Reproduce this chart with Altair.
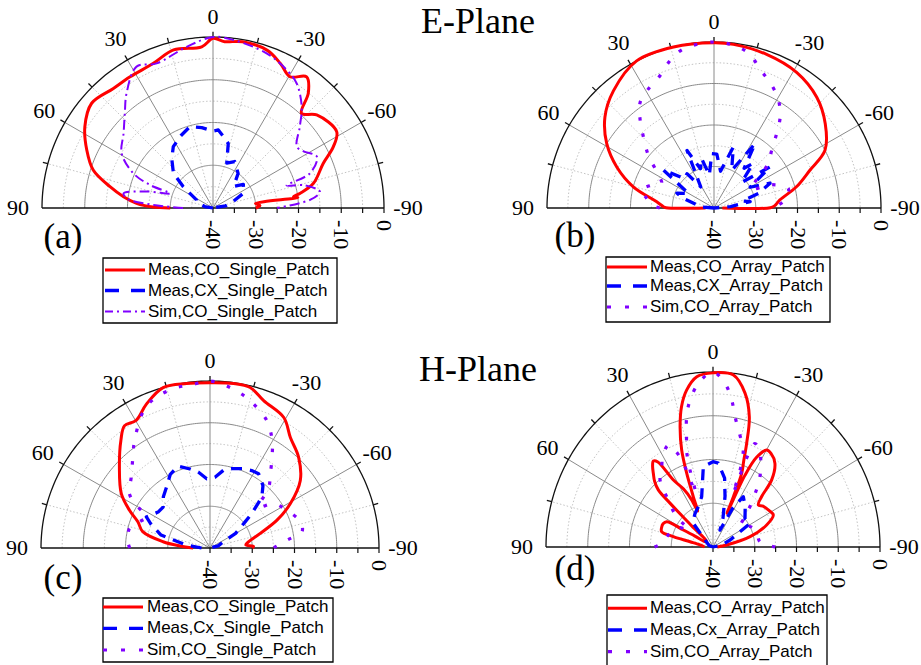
import altair as alt
import numpy as np
import pandas as pd

W, H = 921, 665

# ---------------- radiation patterns: angle (deg), level (dB) ----------------
# (a) E-plane, single patch
A_CO_ANG = [90, 89, 88, 86.5, 82.8, 78.3, 72.4, 65.3, 57.6, 49.2, 39.8, 32.3, 22.4, 14, 4,
            0, -4, -10, -19, -25, -30.4, -35.5, -39.7, -43.1, -48.1, -58.3, -63, -68, -76.2,
            -80.4, -82, -83, -84, -87, -90]
A_CO_DB = [-30, -26, -24, -22.1, -18.9, -15.4, -10.6, -7.5, -4.5, -2.5, -3.6, -3.7, -3.4, -1.9, -2.2,
           -0.3, -1.0, -0.5, -1.0, -2.7, -4.4, -2.3, -5.1, -9.7, -7.4, -6.0, -8.4, -12.2, -15.8,
           -19.3, -21, -20, -30, -29, -30]
A_CX_ANG = [90, 80, 70, 64, 54.3, 48.8, 40, 32.9, 24, 15.8, 8, 0, -3.9, -8, -13.3, -17, -25, -36,
            -43.6, -52, -64, -72, -80, -90]
A_CX_DB = [-40, -38, -36, -35.7, -31.4, -27.7, -25, -22.9, -21.5, -20.2, -21, -22, -21.7, -23, -24.5,
           -29, -28, -30, -33, -31, -32, -35, -37, -40]
A_SIM_ANG = [90, 87, 84, 80.7, 76, 71.2, 69.9, 66.5, 59.1, 50, 42.9, 37, 28.4, 21.3, 9.3, 0, -6.9,
             -19.1, -28.1, -33.9, -41.2, -46.9, -53.8, -58, -63.7, -70.3, -73, -76, -81.3, -85, -90]
A_SIM_DB = [-33, -26, -20, -18.8, -24, -29.4, -24.3, -19.7, -15.1, -12.7, -9.7, -6.4, -2.4, -3.7, -1.8,
            0, -0.4, -1.7, -3.4, -4.9, -8.5, -12.2, -15.7, -15, -12.9, -15.9, -22, -18, -14.7, -17, -25]

# (b) E-plane, array
B_CO_ANG = [90, 89.7, 88.5, 83.7, 75.2, 67, 58.9, 50, 40.5, 27.6, 14, 0, -6.7, -18.8, -31.2, -42.7,
            -52.7, -62.4, -68.4, -75.5, -83, -88, -89.7, -90]
B_CO_DB = [-38, -28.5, -27.9, -26.2, -20, -14.7, -10, -5.9, -2.9, 0, 0, -0.2, -0.3, -0.9, -1.8, -3.7,
           -6.5, -10, -15.3, -19.6, -24.1, -25.5, -26.5, -38]
B_CX_ANG = [90, 85, 77, 72, 68, 60, 53, 45, 38, 32, 25, 19, 14, 8, 2.4, -3, -10, -17.5, -25, -32.4,
            -37, -41, -47, -53.6, -60, -66, -71.7, -76, -80, -85, -90]
B_CX_DB = [-40, -37, -35, -32, -30.4, -33, -24.8, -30, -29.5, -34, -24.7, -30, -27.7, -32, -26.9, -27,
           -31, -24.6, -30, -21.6, -28, -25.7, -31, -23.3, -30, -25.3, -28.8, -33, -31.2, -36, -40]
B_SIM_ANG = [90, 87, 81.8, 76, 70, 64.8, 58, 51.1, 44.7, 40, 34.8, 28.8, 22.1, 16.6, 10.9, 0, -7.3,
             -13.1, -18.2, -23.9, -30.4, -35.9, -40, -44.8, -50.6, -57.3, -63, -68, -75.2, -83.6, -90]
B_SIM_DB = [-27, -25, -23.7, -22.1, -24, -26.1, -24, -19.8, -16, -12.5, -9, -7.3, -5.6, -3, -1, 0, -0.6,
            -2, -4.8, -6.9, -9.6, -13, -16.7, -20.4, -23.2, -28.3, -30, -25, -21.6, -22.9, -26]

# (c) H-plane, single patch
C_CO_ANG = [90, 86, 82.3, 76.2, 69.8, 64.6, 58.2, 47.9, 39.3, 34.6, 29.8, 23.6, 16.1, 8, 0, -8, -13.9,
            -19.8, -29.2, -35.7, -44, -52.9, -60.8, -67.2, -73.6, -80.6, -85, -88, -90]
C_CO_DB = [-36, -32.9, -28.8, -23.6, -21.8, -18.9, -15.3, -11.1, -6.7, -4.4, -4.8, -2.4, 0, -0.2, -0.4,
           -0.2, -0.4, -2.5, -4.2, -7.4, -9.8, -13.2, -18.2, -22.8, -27.6, -30.7, -31.5, -29.7, -30]
C_CX_ANG = [90, 82.7, 75, 68, 63.7, 55, 48.5, 42, 35, 28, 21, 14, 8.7, 2.7, -4, -10, -15.2, -22, -28,
            -32.9, -40, -45.2, -50, -53, -60, -64.6, -75, -90]
C_CX_DB = [-38, -34.4, -28, -25, -23.2, -25, -25.2, -23.5, -22.1, -20, -19, -20.5, -21.6, -23.4, -23,
           -21, -20.3, -19.5, -19, -18.8, -20.5, -22.7, -27, -29.6, -33, -36.5, -38, -40]
C_SIM_ANG = [90, 85.6, 80, 76.2, 70, 63.7, 60, 55.7, 47.7, 40, 34.8, 25, 18.7, 11.7, 5.8, 0, -5.8,
             -11.6, -17.5, -23.9, -29.4, -33.6, -38.8, -44, -49.5, -54.8, -62, -73.7, -79.9, -84, -90]
C_SIM_DB = [-21, -20.5, -20.3, -20.4, -22, -23.2, -20.3, -16.9, -14.8, -11.6, -8.7, -3.3, -1.6, -0.8,
            -0.6, 0, -1, -2.4, -4.3, -6.7, -10.1, -13.4, -17.2, -20, -24.8, -21.6, -20, -17.7, -17.9,
            -21.6, -25]

# (d) H-plane, array
D_CO_ANG = [90, 82, 77.7, 76, 74, 70, 66, 62.4, 61.4, 60, 56, 50, 46.5, 45.8, 45.1, 43, 40.3, 38, 36,
            34.2, 31.8, 28, 25.4, 24, 22.3, 20.5, 18.7, 16, 13.2, 10, 5.7, 0, -7.1, -12.3, -16.3,
            -18.8, -20.5, -22.2, -23, -23.5, -25, -27, -30.1, -33, -37.8, -42.5, -45.3, -48.5, -52,
            -58, -63.1, -68.6, -75, -82, -90]
D_CO_DB = [-38, -37, -34.4, -30.2, -27.2, -26.9, -26.9, -27.5, -31.9, -35, -38, -38, -33, -25.7, -21.5,
           -19.5, -17.9, -16.5, -15.7, -16.5, -22, -25, -28, -31, -27.6, -22, -16.6, -11.4, -7, -3.6,
           -0.9, -0.2, -0.4, -4, -9, -15, -19, -21.8, -27.5, -31.6, -22, -17, -14.4, -14.5, -15.8,
           -19.2, -23.6, -25.5, -24.8, -24.2, -23.8, -26.2, -30.8, -36.7, -39]
D_CX_ANG = [90, 70, 50, 41, 35, 29.3, 20, 13.3, 7.2, 0, -3.8, -10, -14, -20, -23.4, -28, -32.3, -40,
            -50, -58.7, -68.6, -78, -90]
D_CX_DB = [-40, -39, -37.5, -32.8, -32, -31.2, -30, -28.2, -21.5, -20.5, -20.8, -24, -28.1, -33, -35.8,
           -30, -26.4, -28, -30, -29.6, -35.6, -38, -40]
D_SIM_ANG = [90, 86, 73, 62, 56, 51.5, 43.9, 39.6, 35, 30, 24.6, 21, 18.5, 17.5, 16, 14.1, 12, 9.3, 5,
             0, -4.4, -7.6, -10, -14, -18.1, -20.5, -21.5, -23, -28, -35, -40, -46.5, -55, -62, -69,
             -77, -84, -90]
D_SIM_DB = [-26, -27.7, -29.2, -30.5, -33, -28.9, -24, -20.1, -18.5, -16, -14.4, -18, -27, -22, -17,
            -14, -9.6, -6, -2.2, 0, -2.5, -6.1, -9.7, -13.5, -16.7, -22, -27, -14.3, -16, -20.4,
            -24.5, -28.8, -32, -30, -29.2, -29, -28.7, -25]

# ---------------- axis / legend text ----------------
ANGLE_TICKS = [90, 60, 30, 0, -30, -60, -90]
RADIAL_TICKS = [-40, -30, -20, -10, 0]
PANEL_TAGS = {"a": "(a)", "b": "(b)", "c": "(c)", "d": "(d)"}
LEGEND_TEXT = {
    "a": ["Meas,CO_Single_Patch", "Meas,CX_Single_Patch", "Sim,CO_Single_Patch"],
    "b": ["Meas,CO_Array_Patch", "Meas,CX_Array_Patch", "Sim,CO_Array_Patch"],
    "c": ["Meas,CO_Single_Patch", "Meas,Cx_Single_Patch", "Sim,CO_Single_Patch"],
    "d": ["Meas,CO_Array_Patch", "Meas,Cx_Array_Patch", "Sim,CO_Array_Patch"],
}

# ---------------- layout (pixels) ----------------
# centre x, centre y, horizontal radius, vertical radius of each half-polar frame
GEOM = {"a": (213, 208, 171, 171), "b": (714, 208, 167, 166),
        "c": (210, 548, 169, 167), "d": (713, 547, 167, 175)}
TAG_POS = {"a": (63, 237), "b": (575, 236), "c": (63, 578), "d": (575, 569)}
LEG_BOX = {"a": (103, 258, 337, 323), "b": (606, 257, 830, 322),
           "c": (103, 598, 333, 662), "d": (607, 595, 827, 672)}
LEG_ROWS = {"a": (270, 290.5, 311.5), "b": (267, 286, 307),
            "c": (607, 628.3, 650), "d": (608.3, 630, 651.7)}
LEG_X = {"a": (105, 145, 148), "b": (607, 647, 650), "c": (103, 143, 147), "d": (608, 647, 650)}

RED, BLUE, VIOLET = "#ff0000", "#0000ff", "#8000ff"
SERIF, SANS = "Liberation Serif", "Liberation Sans"

XS = alt.Scale(domain=[0, W], nice=False, zero=False)
YS = alt.Scale(domain=[0, H], nice=False, zero=False, reverse=True)


def add_geom(df):
    df["cx"] = df["panel"].map(lambda p: GEOM[p][0])
    df["cy"] = df["panel"].map(lambda p: GEOM[p][1])
    df["rx"] = df["panel"].map(lambda p: GEOM[p][2])
    df["ry"] = df["panel"].map(lambda p: GEOM[p][3])
    return df


def polar(chart):
    return chart.transform_calculate(
        px="datum.cx - datum.rx * (datum.db + 40) / 40 * sin(datum.ang * PI / 180)",
        py="datum.cy - datum.ry * (datum.db + 40) / 40 * cos(datum.ang * PI / 180)",
    )


def line_layer(df, **mark):
    return polar(alt.Chart(df)).mark_line(strokeJoin="round", **mark).encode(
        x=alt.X("px:Q", scale=XS, axis=None),
        y=alt.Y("py:Q", scale=YS, axis=None),
        detail="key:N",
        order="idx:Q",
    )


# ---------------- polar grid ----------------
grid_rows = []
arc_angles = np.arange(90, -90.5, -1.0)
for p in GEOM:
    for lvl in [-35, -30, -25, -20, -15, -10, -5, 0]:
        kind = "black" if lvl == 0 else ("solid" if lvl % 10 == 0 else "dot")
        for i, a in enumerate(arc_angles):
            grid_rows.append(dict(panel=p, kind=kind, key=f"{p}arc{lvl}", idx=i, ang=a, db=lvl))
    for a in [75, 60, 45, 30, 15, 0, -15, -30, -45, -60, -75]:
        kind = "solid" if a % 30 == 0 else "dot"
        for i, d in enumerate([-40, 0]):
            grid_rows.append(dict(panel=p, kind=kind, key=f"{p}sp{a}", idx=i, ang=a, db=d))
        for i, d in enumerate([0, 1.2]):
            grid_rows.append(dict(panel=p, kind="black", key=f"{p}tk{a}", idx=i, ang=a, db=d))
    for i, (a, d) in enumerate([(90, 0), (90, -40), (-90, 0)]):
        grid_rows.append(dict(panel=p, kind="black", key=f"{p}base", idx=i, ang=a, db=d))
grid = add_geom(pd.DataFrame(grid_rows))

grid_dot = line_layer(grid[grid.kind == "dot"], color="#bcbcbc", strokeWidth=0.9, strokeDash=[1.5, 2])
grid_solid = line_layer(grid[grid.kind == "solid"], color="#8a8a8a", strokeWidth=1)
grid_black = line_layer(grid[grid.kind == "black"], color="#111111", strokeWidth=1.3)

# ticks below the baseline of the radial scale
rt_rows = []
for p in GEOM:
    for d in range(-40, 1, 5):
        rt_rows.append(dict(panel=p, db=d))
rticks = add_geom(pd.DataFrame(rt_rows))
radial_ticks = alt.Chart(rticks).transform_calculate(
    px="datum.cx + datum.rx * (datum.db + 40) / 40", py="datum.cy", py2="datum.cy + 5"
).mark_rule(color="#111111", strokeWidth=1.2).encode(
    x=alt.X("px:Q", scale=XS, axis=None), y=alt.Y("py:Q", scale=YS, axis=None), y2="py2:Q")

# radial labels (rotated) and angle labels
rl = add_geom(pd.DataFrame([dict(panel=p, db=d, t=str(d)) for p in GEOM for d in RADIAL_TICKS]))
radial_labels = alt.Chart(rl).transform_calculate(
    px="datum.cx + datum.rx * (datum.db + 40) / 40", py="datum.cy + 12"
).mark_text(font=SERIF, fontSize=22, angle=90, align="left", baseline="middle", color="black").encode(
    x=alt.X("px:Q", scale=XS, axis=None), y=alt.Y("py:Q", scale=YS, axis=None), text="t:N")

al = add_geom(pd.DataFrame([dict(panel=p, ang=a, t=str(a), off=(20 if a == 0 else 24))
                            for p in GEOM for a in ANGLE_TICKS]))
angle_labels = alt.Chart(al).transform_calculate(
    px="datum.cx - (datum.rx + datum.off) * sin(datum.ang * PI / 180)",
    py="datum.cy - (datum.ry + datum.off) * cos(datum.ang * PI / 180)",
).mark_text(font=SERIF, fontSize=22, align="center", baseline="middle", color="black").encode(
    x=alt.X("px:Q", scale=XS, axis=None), y=alt.Y("py:Q", scale=YS, axis=None), text="t:N")

# ---------------- pattern curves ----------------
CURVES = [
    ("a", "co", A_CO_ANG, A_CO_DB), ("a", "cx", A_CX_ANG, A_CX_DB), ("a", "sim", A_SIM_ANG, A_SIM_DB),
    ("b", "co", B_CO_ANG, B_CO_DB), ("b", "cx", B_CX_ANG, B_CX_DB), ("b", "sim", B_SIM_ANG, B_SIM_DB),
    ("c", "co", C_CO_ANG, C_CO_DB), ("c", "cx", C_CX_ANG, C_CX_DB), ("c", "sim", C_SIM_ANG, C_SIM_DB),
    ("d", "co", D_CO_ANG, D_CO_DB), ("d", "cx", D_CX_ANG, D_CX_DB), ("d", "sim", D_SIM_ANG, D_SIM_DB),
]
crow = []
for p, s, angs, dbs in CURVES:
    for i, (a, d) in enumerate(zip(angs, dbs)):
        crow.append(dict(panel=p, series=s, key=p + s, idx=i, ang=a, db=d))
curves = add_geom(pd.DataFrame(crow))

co_layer = line_layer(curves[curves.series == "co"], color=RED, strokeWidth=3,
                      interpolate="catmull-rom")
cx_layer = line_layer(curves[curves.series == "cx"], color=BLUE, strokeWidth=3.3, strokeDash=[11, 8])
sim_dashdot = line_layer(curves[(curves.series == "sim") & (curves.panel == "a")],
                         color=VIOLET, strokeWidth=2, strokeDash=[10, 4, 2, 4],
                         interpolate="catmull-rom")
sim_dotted = line_layer(curves[(curves.series == "sim") & (curves.panel != "a")],
                        color=VIOLET, strokeWidth=3.2, strokeDash=[3.5, 13],
                        interpolate="catmull-rom")

# ---------------- titles and panel tags ----------------
titles = alt.Chart(pd.DataFrame({"x": [478, 478], "y": [22, 370], "t": ["E-Plane", "H-Plane"]})).mark_text(
    font=SERIF, fontSize=36, align="center", baseline="middle", color="black").encode(
    x=alt.X("x:Q", scale=XS, axis=None), y=alt.Y("y:Q", scale=YS, axis=None), text="t:N")
tags = alt.Chart(pd.DataFrame([dict(x=TAG_POS[p][0], y=TAG_POS[p][1], t=PANEL_TAGS[p]) for p in GEOM])).mark_text(
    font=SERIF, fontSize=35, align="center", baseline="middle", color="black").encode(
    x=alt.X("x:Q", scale=XS, axis=None), y=alt.Y("y:Q", scale=YS, axis=None), text="t:N")

# ---------------- legends ----------------
boxes = pd.DataFrame([dict(x0=b[0], y0=b[1], x1=b[2], y1=b[3]) for b in LEG_BOX.values()])
leg_box = alt.Chart(boxes).mark_rect(fill="white", stroke="black", strokeWidth=1.3).encode(
    x=alt.X("x0:Q", scale=XS, axis=None), x2="x1:Q", y=alt.Y("y0:Q", scale=YS, axis=None), y2="y1:Q")

sample_rows, text_rows = [], []
for p in GEOM:
    xa, xb, xt = LEG_X[p]
    for k, (s, yy) in enumerate(zip(["co", "cx", "sim"], LEG_ROWS[p])):
        style = "simdd" if (s == "sim" and p == "a") else s
        sample_rows.append(dict(style=style, x0=xa, x1=xb, y=yy))
        text_rows.append(dict(x=xt, y=yy, t=LEGEND_TEXT[p][k]))
samples = pd.DataFrame(sample_rows)


def sample_layer(style, **mark):
    return alt.Chart(samples[samples["style"] == style]).mark_rule(**mark).encode(
        x=alt.X("x0:Q", scale=XS, axis=None), x2="x1:Q", y=alt.Y("y:Q", scale=YS, axis=None))


leg_co = sample_layer("co", color=RED, strokeWidth=3)
leg_cx = sample_layer("cx", color=BLUE, strokeWidth=3.3, strokeDash=[14, 12])
leg_dd = sample_layer("simdd", color=VIOLET, strokeWidth=2, strokeDash=[8, 4, 2, 4])
leg_dot = sample_layer("sim", color=VIOLET, strokeWidth=3.2, strokeDash=[4, 14])
leg_text = alt.Chart(pd.DataFrame(text_rows)).mark_text(
    font=SANS, fontSize=17, align="left", baseline="middle", color="black").encode(
    x=alt.X("x:Q", scale=XS, axis=None), y=alt.Y("y:Q", scale=YS, axis=None), text="t:N")

chart = alt.layer(
    grid_dot, grid_solid, grid_black, radial_ticks, radial_labels, angle_labels,
    co_layer, cx_layer, sim_dashdot, sim_dotted,
    titles, tags,
    leg_box, leg_co, leg_cx, leg_dd, leg_dot, leg_text,
).properties(
    width=W, height=H, padding=0,
    autosize=alt.AutoSizeParams(type="none"),
    background="white",
).configure_view(stroke=None)

chart.save("out.html", embed_options={"renderer": "svg", "actions": False})
